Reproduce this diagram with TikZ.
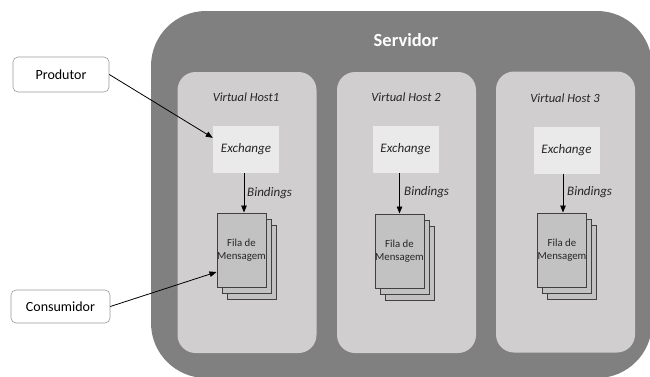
\documentclass[tikz,border=0pt]{standalone}
\usepackage{fontspec}
\setmainfont{Carlito}
\usetikzlibrary{arrows.meta,calc}
\definecolor{srvgray}{HTML}{808080}
\definecolor{vhgray}{HTML}{D0CECF}
\definecolor{exgray}{HTML}{EAEAEA}
\definecolor{pagegray}{HTML}{C2C2C2}
\definecolor{txtgray}{HTML}{262626}
\definecolor{edgegray}{HTML}{404040}
\tikzset{
  server/.style={fill=srvgray, draw=none, rounded corners=55pt, minimum width=501pt, minimum height=367pt, inner sep=0pt},
  vhost/.style={fill=vhgray, draw=none, rounded corners=18pt, minimum width=139pt, minimum height=281pt, inner sep=0pt},
  vhtitle/.style={font=\fontsize{12.5}{15}\selectfont\itshape, text=txtgray, inner sep=0pt},
  exbox/.style={fill=exgray, draw=none, minimum width=66pt, minimum height=47pt, inner sep=0pt, font=\fontsize{13}{15}\selectfont\itshape, text=txtgray},
  page/.style={fill=pagegray, draw=edgegray, line width=1pt, minimum width=49pt, minimum height=74pt, inner sep=0pt},
  pagefront/.style={page, align=center, font=\fontsize{10.8}{13}\selectfont, text=txtgray},
  bindlabel/.style={anchor=west, inner sep=0pt, font=\fontsize{13}{15}\selectfont\itshape, text=txtgray},
  actor/.style={fill=white, draw=gray!80, line width=0.6pt, rounded corners=5pt, inner sep=0pt, font=\fontsize{14}{16}\selectfont, text=black},
  arr/.style={draw=black, line width=0.8pt, -{Triangle[length=7pt,width=5.5pt]}},
}
\begin{document}
\begin{tikzpicture}[x=1pt,y=-1pt]
\useasboundingbox (0,0) rectangle (650,376);
\clip (0,0) rectangle (650,376);
\fill[white] (0,0) rectangle (650,376);
% server
\node[server] (srv) at (401.5,194.5) {};
\node[font=\fontsize{18.5}{21}\selectfont\bfseries, text=white, inner sep=0pt] (srvtitle) at (406,40) {Servidor};
% virtual hosts
\node[vhost] (vh1) at (247,212.5) {};
\node[vhost] (vh2) at (406.5,212.5) {};
\node[vhost] (vh3) at (565.5,212) {};
\node[vhtitle] (t1) at (246,97) {Virtual Host1};
\node[vhtitle] (t2) at (406,97) {Virtual Host 2};
\node[vhtitle] (t3) at (565,98) {Virtual Host 3};
% exchanges
\node[exbox] (ex1) at (246,149.5) {Exchange};
\node[exbox] (ex2) at (405.5,149.5) {Exchange};
\node[exbox] (ex3) at (566.5,150) {Exchange};
% queues
\node[page] (q1c) at (251.5,262) {};
\node[page] (q1b) at (246.5,256) {};
\node[pagefront] (q1) at (241.5,250) {Fila de\\Mensagem};
\node[page] (q2c) at (409.5,263) {};
\node[page] (q2b) at (404.5,257) {};
\node[pagefront] (q2) at (399.5,251) {Fila de\\Mensagem};
\node[page] (q3c) at (572,262) {};
\node[page] (q3b) at (567,256) {};
\node[pagefront] (q3) at (562,250) {Fila de\\Mensagem};
% bindings
\draw[arr] (q1.north |- ex1.south) ++(2.5,0) coordinate (b1s) -- (b1s |- q1.north);
\draw[arr] (q2.north |- ex2.south) -- (q2.north);
\draw[arr] (q3.north |- ex3.south) ++(1,0) coordinate (b3s) -- (b3s |- q3.north);
\node[bindlabel] (bl1) at (247,193) {Bindings};
\node[bindlabel] (bl2) at (404,192) {Bindings};
\node[bindlabel] (bl3) at (567,192) {Bindings};
% actors
\node[actor, minimum width=96pt, minimum height=35pt] (prod) at (61,74.5) {Produtor};
\node[actor, minimum width=99pt, minimum height=33pt] (cons) at (60.5,306.5) {Consumidor};
\coordinate (exin) at ([yshift=-12pt]ex1.north west);
\coordinate (qin) at ([yshift=-22pt]q1.west);
\draw[arr] (prod.east) -- (exin);
\draw[arr] (cons.east) -- (qin);
\end{tikzpicture}
\end{document}
